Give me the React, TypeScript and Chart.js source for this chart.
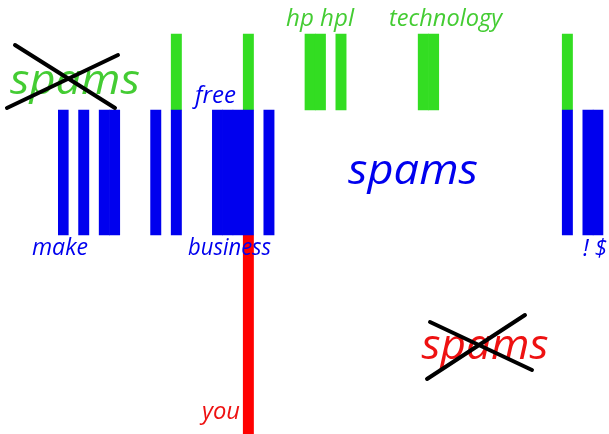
import React, { useEffect, useRef } from "react";
import { Chart, registerables } from "chart.js";

Chart.register(...registerables);

// 53 equal word slots along the x axis
const slots: string[] = [
  "0","1","2","3","4","5","6","7","8","9","10","11","12","13","14","15","16","17",
  "18","19","20","21","22","23","24","25","26","27","28","29","30","31","32","33","34","35",
  "36","37","38","39","40","41","42","43","44","45","46","47","48","49","50","51","52",
];

// which slots hold a bar in each band
const spamSlots = [0, 2, 4, 5, 9, 11, 15, 16, 17, 18, 20, 49, 51, 52];
const hamSlots = [11, 18, 24, 25, 27, 35, 36, 49];
const youSlots = [18];

// vertical extent of each band (value units, top = 0)
const hamBand: [number, number] = [34, 110];
const spamBand: [number, number] = [110, 235];
const youBand: [number, number] = [235, 434];

// word labels
const spamWords = ["make", "business", "free", "! $"];
const hamWords = ["hp hpl", "technology"];
const youWords = ["you"];

const BLUE = "#0000ee";
const GREEN = "#33dd22";
const RED = "#ff0000";
const FONT = "'Comic Sans MS', 'Open Sans', sans-serif";

// annotation placement (slot units / value units) and sizes
type Note = { text: string; x: number; y: number; w: number; size: number; color: string };
const notes: Note[] = [
  { text: spamWords[0], x: -0.31, y: 255, w: 56, size: 23, color: BLUE },
  { text: spamWords[1], x: 16.17, y: 255, w: 83, size: 23, color: BLUE },
  { text: spamWords[2], x: 14.8, y: 103, w: 41, size: 23, color: BLUE },
  { text: spamWords[3], x: 51.69, y: 256, w: 24, size: 23, color: BLUE },
  { text: hamWords[0], x: 24.96, y: 26, w: 68, size: 23, color: "#44cc33" },
  { text: hamWords[1], x: 37.16, y: 26, w: 113, size: 23, color: "#44cc33" },
  { text: youWords[0], x: 15.34, y: 419, w: 38, size: 23, color: "#ee1111" },
  { text: "spams", x: 34.0, y: 184, w: 130, size: 42, color: BLUE },
  { text: "spams", x: 1.15, y: 94, w: 130, size: 42, color: "#44cc33" },
  { text: "spams", x: 41.0, y: 359, w: 127, size: 42, color: "#ee1111" },
];
type Cross = { x1: number; y1: number; x2: number; y2: number };
const crosses: Cross[] = [
  { x1: -4.68, y1: 45, x2: 5.04, y2: 108 },
  { x1: 5.33, y1: 55, x2: -5.46, y2: 108 },
  { x1: 35.65, y1: 322, x2: 45.56, y2: 370 },
  { x1: 44.88, y1: 315, x2: 35.36, y2: 379 },
];

const bandData = (used: number[], band: [number, number]) =>
  slots.map((_, i) => (used.includes(i) ? band : null));

const notesPlugin = {
  id: "notes",
  afterDatasetsDraw(chart: any) {
    const ctx: CanvasRenderingContext2D = chart.ctx;
    const xs = chart.scales.x;
    const ys = chart.scales.y;
    ctx.save();
    for (const n of notes) {
      ctx.font = `italic ${n.size}px ${FONT}`;
      const m = ctx.measureText(n.text).width;
      const px = xs.getPixelForValue(n.x);
      const py = ys.getPixelForValue(n.y);
      ctx.save();
      ctx.translate(px, py);
      ctx.scale(n.w / m, 1);
      ctx.fillStyle = n.color;
      ctx.textAlign = "center";
      ctx.textBaseline = "alphabetic";
      ctx.fillText(n.text, 0, 0);
      ctx.restore();
    }
    ctx.strokeStyle = "#000000";
    ctx.lineWidth = 4;
    ctx.lineCap = "round";
    for (const c of crosses) {
      ctx.beginPath();
      ctx.moveTo(xs.getPixelForValue(c.x1), ys.getPixelForValue(c.y1));
      ctx.lineTo(xs.getPixelForValue(c.x2), ys.getPixelForValue(c.y2));
      ctx.stroke();
    }
    ctx.restore();
  },
};

export default function App() {
  const ref = useRef<HTMLCanvasElement | null>(null);
  useEffect(() => {
    if (!ref.current) return;
    const common = {
      categoryPercentage: 1,
      barPercentage: 1,
      borderWidth: 0,
      borderSkipped: false,
      grouped: false,
    };
    const chart = new Chart(ref.current, {
      type: "bar",
      data: {
        labels: slots,
        datasets: [
          { label: "spam", data: bandData(spamSlots, spamBand) as any, backgroundColor: BLUE, ...common },
          { label: "ham", data: bandData(hamSlots, hamBand) as any, backgroundColor: GREEN, ...common },
          { label: "you", data: bandData(youSlots, youBand) as any, backgroundColor: RED, ...common },
        ],
      },
      options: {
        responsive: false,
        animation: false,
        layout: { padding: { left: 58, right: 5.6, top: 0, bottom: 0 } },
        plugins: { legend: { display: false }, tooltip: { enabled: false } },
        scales: {
          x: { type: "category", display: false, offset: true, grid: { display: false } },
          y: { type: "linear", display: false, min: 0, max: 434, reverse: true },
        },
      } as any,
      plugins: [notesPlugin],
    });
    return () => chart.destroy();
  }, []);
  return (
    <div style={{ position: "absolute", left: 0, top: 0, width: 609, height: 434, background: "#fff" }}>
      <canvas ref={ref} width={609} height={434} style={{ display: "block" }} />
    </div>
  );
}
